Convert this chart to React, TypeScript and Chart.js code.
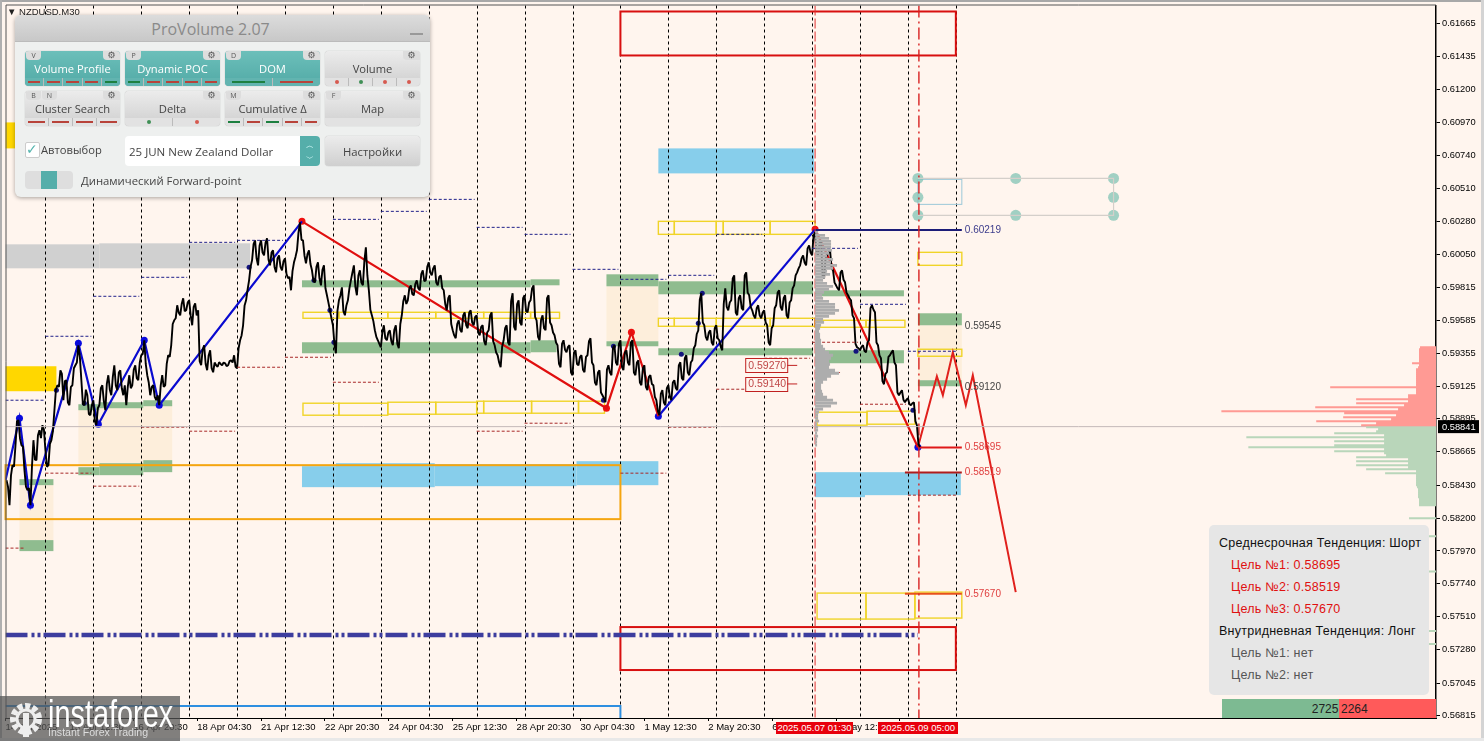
import React, { useEffect, useRef } from "react";
import { Chart, registerables } from "chart.js";
Chart.register(...registerables);

// ---------- axes ----------
const FIRST_BAR = 4;
const LAST_BAR = 1437;
const PRICE_MAX = 0.61791;
const PRICE_MIN = 0.568;
const priceTicks = [0.61665, 0.61435, 0.612, 0.6097, 0.6074, 0.6051, 0.6028, 0.6005, 0.59815, 0.59585, 0.59355, 0.59125, 0.58895, 0.58665, 0.5843, 0.582, 0.5797, 0.5774, 0.5751, 0.5728, 0.57045, 0.56815];
const timeTickBars = [4, 68, 132, 196, 260, 324, 388, 452, 516, 580, 644, 708, 772, 836, 900];
const timeTickLabels = ["14 Apr 2025", "15 Apr 12:30", "16 Apr 20:30", "18 Apr 04:30", "21 Apr 12:30", "22 Apr 20:30", "24 Apr 04:30", "25 Apr 12:30", "28 Apr 20:30", "30 Apr 04:30", "1 May 12:30", "2 May 20:30", "6 May 04:30", "7 May 12:30", "8 May 20:30"];
const dayBreakBars = [44, 92, 140, 188, 236, 284, 332, 380, 428, 476, 524, 572, 620, 668, 716, 764, 812, 860, 908, 956];

// ---------- price, one reading every PRICE_STEP bars from FIRST_PRICE_BAR (price x 1e5) ----------
const FIRST_PRICE_BAR = 5;
const PRICE_STEP = 3;
const closePoints = [
  58466, 58291, 58571, 58711, 58886, 58711, 58536, 58396, 58291, 58746, 58606, 58816, 58851, 58676, 58571, 58746, 58956, 59131, 59236, 59026,
  59166, 58991, 59131, 59271, 59411, 59166, 58991, 59061, 58921, 59026, 58851, 58991, 59131, 58956, 59201, 59061, 59271, 59096, 59236, 59061,
  58991, 59201, 59131, 59271, 59166, 59341, 59446, 59201, 59061, 59131, 59026, 58991, 59201, 59131, 59341, 59411, 59586, 59691, 59621, 59740,
  59656, 59726, 59551, 59705, 59656, 59271, 59411, 59236, 59376, 59222, 59271, 59292, 59271, 59285, 59271, 59306, 59341, 59250, 59446, 59551,
  59726, 59866, 60006, 60146, 59971, 60146, 60041, 60160, 59971, 60076, 59922, 60041, 59936, 60020, 59880, 59796, 59992, 60076, 60272, 60146,
  59985, 60076, 59936, 59852, 59992, 59831, 59971, 59761, 59656, 59551, 59355, 59726, 59817, 59621, 59726, 59866, 59971, 59761, 59936, 59831,
  60097, 59796, 59621, 59516, 59446, 59397, 59551, 59446, 59516, 59411, 59551, 59390, 59621, 59761, 59726, 59831, 59761, 59866, 59796, 59936,
  59866, 59992, 59901, 59971, 59831, 59901, 59796, 59656, 59761, 59516, 59460, 59586, 59502, 59642, 59530, 59656, 59551, 59621, 59481, 59551,
  59411, 59516, 59642, 59411, 59341, 59257, 59446, 59551, 59411, 59775, 59516, 59726, 59551, 59761, 59642, 59726, 59831, 59586, 59446, 59621,
  59516, 59761, 59551, 59481, 59411, 59257, 59446, 59362, 59411, 59201, 59376, 59271, 59341, 59222, 59341, 59460, 59271, 59131, 59236, 59061,
  59012, 59271, 59201, 59411, 59271, 59446, 59236, 59376, 59271, 59446, 59201, 59306, 59131, 59271, 59096, 59201, 59131, 59026, 58921, 59096,
  58991, 59131, 59026, 59166, 59096, 59292, 59166, 59341, 59201, 59306, 59411, 59516, 59775, 59551, 59446, 59516, 59411, 59551, 59446, 59376,
  59810, 59656, 59726, 59901, 59621, 59761, 59656, 59922, 59761, 59656, 59600, 59691, 59600, 59656, 59551, 59411, 59551, 59691, 59796, 59656,
  59761, 59600, 59726, 59831, 59922, 59971, 60041, 59971, 60111, 60041, 60202, 60041, 60146, 59880, 60041, 60076, 59936, 59831, 59796, 59936,
  59852, 59761, 59726, 59600, 59397, 59376, 59411, 59362, 59446, 59691, 59642, 59411, 59320, 59138, 59222, 59341, 59376, 59271, 59061, 59096,
  59012, 59040, 58991, 59012, 58851, 58697,
];
// a second reading inside each step (half a step after each value above)
const midPoints = [
  58420, 58500, 58560, 58880, 58760, 58700, 58420, 58410, 58560, 58610, 58780, 58760, 58820, 58560, 58720, 58810, 59100, 59120, 59210, 59160,
  59010, 59120, 59250, 59290, 59330, 59000, 59100, 58930, 58990, 58880, 58970, 59110, 59020, 59140, 59100, 59190, 59130, 59220, 59110, 59130,
  59120, 59110, 59240, 59180, 59290, 59350, 59280, 59150, 59120, 59050, 59060, 59130, 59120, 59280, 59330, 59560, 59600, 59640, 59700, 59650,
  59710, 59620, 59680, 59620, 59300, 59380, 59280, 59340, 59250, 59290, 59260, 59280, 59290, 59265, 59300, 59290, 59260, 59390, 59480, 59690,
  59800, 59960, 60120, 60020, 60110, 60060, 60130, 60010, 60060, 59960, 60020, 59960, 60000, 59910, 59890, 59930, 60030, 60200, 60150, 60040,
  60050, 59980, 59860, 59960, 59880, 59940, 59810, 59710, 59600, 59420, 59650, 59760, 59650, 59690, 59810, 59920, 59820, 59900, 59850, 60000,
  59900, 59660, 59580, 59470, 59420, 59500, 59460, 59500, 59440, 59520, 59420, 59560, 59720, 59700, 59810, 59770, 59840, 59810, 59910, 59860,
  59960, 59920, 59950, 59850, 59890, 59810, 59700, 59740, 59560, 59480, 59560, 59520, 59620, 59550, 59640, 59570, 59610, 59500, 59540, 59440,
  59500, 59620, 59440, 59360, 59290, 59400, 59530, 59430, 59720, 59540, 59700, 59570, 59740, 59650, 59710, 59810, 59610, 59470, 59590, 59530,
  59740, 59570, 59500, 59430, 59280, 59420, 59380, 59400, 59220, 59360, 59280, 59330, 59240, 59330, 59440, 59290, 59150, 59220, 59080, 59040,
  59240, 59220, 59390, 59290, 59420, 59260, 59360, 59290, 59430, 59220, 59290, 59150, 59250, 59120, 59190, 59140, 59050, 58950, 59070, 59010,
  59110, 59050, 59150, 59110, 59270, 59180, 59320, 59220, 59290, 59390, 59490, 59730, 59570, 59470, 59500, 59430, 59530, 59460, 59400, 59700,
  59680, 59710, 59880, 59640, 59740, 59670, 59900, 59780, 59680, 59620, 59670, 59620, 59640, 59570, 59430, 59530, 59670, 59780, 59680, 59740,
  59620, 59710, 59810, 59900, 59950, 60020, 59990, 60090, 60060, 60180, 60060, 60130, 59900, 60020, 60060, 59950, 59850, 59810, 59920, 59870,
  59780, 59740, 59620, 59420, 59390, 59400, 59370, 59430, 59670, 59660, 59430, 59340, 59160, 59210, 59330, 59360, 59290, 59080, 59080, 59030,
  59030, 59000, 59005, 58880, 58720,
];

// ---------- swing lines (bar, price x 1e5) ----------
const upSwingBars = [4, 18, 29, 77, 97, 143, 158, 301];
const upSwingPoints = [58466, 58900, 58291, 59425, 58858, 59446, 58991, 60279];
const swingBars2 = [301, 606, 631, 658, 815, 918];
const swingPoints2 = [60279, 58970, 59502, 58914, 60223, 58697];
const forecastBars = [918, 937, 943, 953, 966, 973, 1016];
const forecastPoints = [58697, 59194, 59061, 59362, 58991, 59201, 57682];
const blueDotBars = [18, 29, 77, 97, 143, 158, 658, 918];
const blueDotPoints = [58900, 58291, 59425, 58858, 59446, 58991, 58914, 58697];
const redDotBars = [301, 606, 631, 815];
const redDotPoints = [60279, 58970, 59502, 60223];
const navyDotBars = [55, 83, 248, 313, 329, 333, 613, 603, 702, 698, 681, 856, 913];
const navyDotPoints = [59096, 59005, 59957, 59866, 59656, 59432, 59404, 59026, 59775, 59565, 59348, 59369, 58956];

// ---------- zones: [from bar, to bar, upper price, lower price] ----------
const grayZones = [[4, 98, 0.60118, 0.5995], [98, 249, 0.60125, 0.5995]];
const goldZones = [[4, 55, 0.59264, 0.59089], [4, 15, 0.60972, 0.6079]];
const beigeZones = [[18, 52, 0.58431, 0.58046], [77, 171, 0.58984, 0.58571], [606, 658, 0.59824, 0.59439], [918, 962, 0.59551, 0.59166]];
const greenZones = [
  [18, 52, 0.58473, 0.58431], [18, 52, 0.58046, 0.57969],
  [77, 98, 0.58998, 0.58956], [98, 142, 0.59012, 0.5897], [142, 171, 0.59026, 0.58984],
  [77, 98, 0.58557, 0.58501], [98, 142, 0.58585, 0.58501], [142, 171, 0.58606, 0.58522],
  [301, 530, 0.59866, 0.59817], [530, 559, 0.59873, 0.59831],
  [301, 530, 0.59432, 0.59355], [530, 556, 0.59446, 0.59362],
  [606, 658, 0.59908, 0.59824], [606, 658, 0.59439, 0.59404],
  [658, 813, 0.59859, 0.59768], [658, 813, 0.5939, 0.59341],
  [815, 904, 0.59796, 0.59754], [815, 904, 0.59376, 0.59285],
  [918, 962, 0.59635, 0.59551], [918, 962, 0.59166, 0.59124],
];
const blueZones = [
  [301, 335, 0.58564, 0.58417], [335, 434, 0.58585, 0.58417], [434, 576, 0.58578, 0.58424], [576, 658, 0.58599, 0.58431],
  [658, 814, 0.6079, 0.60615], [815, 865, 0.58522, 0.58347], [865, 961, 0.58522, 0.58361],
];
const yellowBoxes = [
  [302, 338, 0.59642, 0.596], [338, 387, 0.59642, 0.596], [387, 435, 0.59642, 0.596], [435, 483, 0.59642, 0.596], [483, 530, 0.59642, 0.596], [530, 559, 0.59642, 0.596],
  [302, 338, 0.59005, 0.58921], [338, 387, 0.59005, 0.58921], [387, 435, 0.59012, 0.58928], [435, 476, 0.59012, 0.58928], [476, 483, 0.59019, 0.58935], [483, 531, 0.59019, 0.58935], [531, 578, 0.59019, 0.58935], [578, 604, 0.59019, 0.58935],
  [658, 674, 0.60279, 0.60188], [674, 716, 0.60279, 0.60188], [716, 723, 0.60279, 0.60188], [723, 770, 0.60279, 0.60188], [770, 815, 0.60279, 0.60188],
  [658, 674, 0.596, 0.59544], [674, 716, 0.596, 0.59544], [716, 723, 0.596, 0.59544], [723, 770, 0.596, 0.59544], [770, 815, 0.596, 0.59544],
  [815, 866, 0.59586, 0.59537], [866, 905, 0.59586, 0.59537],
  [817, 867, 0.58942, 0.58851], [867, 915, 0.58949, 0.58858],
  [817, 866, 0.57675, 0.57493], [866, 915, 0.57675, 0.57493], [915, 962, 0.57682, 0.575],
  [918, 962, 0.60062, 0.59971], [918, 962, 0.59383, 0.59334],
];
const orangeBox = [[4, 620, 0.58571, 0.58193]];
const redBoxes = [[620, 956, 0.61749, 0.61441], [620, 956, 0.57437, 0.57136]];
const skyBox = [[918, 962, 0.60573, 0.60398]];
const bottomBlueBars = [4, 620, 620];
const bottomBluePrices = [0.56884, 0.56884, 0.568];

// ---------- levels ----------
const highLevelFrom = [4, 44, 92, 140, 188, 236, 332, 380, 428, 476, 524, 572, 620, 668, 716, 812, 860, 908];
const highLevelTo = [44, 90, 138, 186, 234, 282, 378, 426, 474, 522, 570, 618, 666, 714, 762, 858, 906, 956];
const highLevelPoints = [59026, 59474, 59754, 59887, 60132, 60146, 60293, 60349, 60433, 60237, 60188, 59943, 59873, 59901, 60188, 60090, 59698, 59369];
const lowLevelFrom = [4, 44, 92, 140, 188, 236, 284, 332, 476, 524, 620, 668, 716, 764, 812, 860, 908];
const lowLevelTo = [24, 90, 138, 186, 234, 282, 330, 378, 522, 570, 666, 714, 762, 810, 858, 906, 956];
const lowLevelPoints = [57990, 58515, 58424, 58837, 58809, 59257, 59327, 59152, 58809, 58865, 58515, 58837, 59103, 59320, 59432, 58998, 58361];
const CURRENT_PRICE = 0.58841;
const MID_TERM_PRICE = 0.57381;
const targetValues = [0.60219, 0.58695, 0.58519, 0.5767];
const targetFrom = [815, 918, 905, 905];
const targetTo = [962, 962, 962, 962];
const targetColors = ["#1c1c78", "#e01818", "#b01c1c", "#e8501c"];
const sideLabelValues = [0.60219, 0.59545, 0.5912, 0.58695, 0.58519, 0.5767];
const sideLabelColors = ["#3c3c8c", "#444444", "#444444", "#e04040", "#e04040", "#e04040"];
const boxedLevels = [0.5927, 0.5914];
const markerBars = [815, 919];

// ---------- drawing handles ----------
const handleBars = [918, 1016, 1114, 918, 1114, 918, 1016, 1114];
const handlePrices = [0.6058, 0.6058, 0.6058, 0.60447, 0.60447, 0.60321, 0.60321, 0.60321];

// ---------- session profile (price x 1e5, width in bars) ----------
const sessionLevels = [60202, 60181, 60160, 60139, 60118, 60097, 60076, 60055, 60034, 60013, 59992, 59971, 59950, 59929, 59908, 59887, 59866, 59845, 59824, 59803, 59782, 59761, 59740, 59719, 59698, 59677, 59656, 59635, 59614, 59593, 59572, 59551, 59530, 59509, 59488, 59467, 59446, 59425, 59404, 59383, 59362, 59341, 59320, 59299, 59278, 59257, 59236, 59215, 59194, 59173, 59152, 59131, 59110, 59089, 59068, 59047, 59026, 59005, 58984, 58963, 58942, 58921, 58900, 58879, 58858, 58837, 58816, 58795, 58774, 58753, 58732, 58711];
const sessionWidths = [3, 10, 14, 16, 16, 16, 17, 14, 12, 18, 16, 22, 18, 12, 15, 10, 8, 12, 18, 14, 9, 7, 8, 14, 20, 20, 24, 20, 14, 8, 9, 6, 5, 4, 5, 5, 6, 6, 8, 10, 14, 18, 16, 14, 15, 14, 20, 24, 16, 12, 8, 6, 6, 7, 8, 12, 18, 22, 16, 8, 4, 3, 3, 4, 2, 3, 3, 2, 3, 2, 2, 2];
const POC_PRICE = 0.5922;

// ---------- market profile on the right edge ----------
const sellLevels = [59397, 59383, 59369, 59355, 59341, 59327, 59313, 59299, 59285, 59271, 59257, 59243, 59229, 59215, 59201, 59187, 59173, 59159, 59145, 59131, 59117, 59103, 59089, 59075, 59061, 59047, 59033, 59019, 59005, 58991, 58977, 58963, 58949, 58935, 58921, 58907, 58893, 58879, 58865, 58851];
const sellVolumes = [16, 17, 17, 17, 17, 17, 17, 17, 24, 17, 18, 20, 20, 20, 20, 20, 20, 20, 20, 20, 106, 20, 20, 20, 28, 28, 80, 28, 80, 32, 121, 38, 215, 92, 40, 93, 45, 120, 60, 75];
const buyLevels = [58837, 58823, 58809, 58795, 58781, 58767, 58753, 58739, 58725, 58711, 58697, 58683, 58669, 58655, 58641, 58627, 58613, 58599, 58585, 58571, 58557, 58543, 58529, 58515, 58501, 58487, 58473, 58459, 58445, 58431, 58417, 58403, 58389, 58375, 58361, 58347, 58333, 58319, 58305, 58291, 58200, 58074, 57826, 57410, 57319];
const buyVolumes = [70, 58, 60, 102, 52, 190, 52, 102, 52, 102, 188, 52, 102, 52, 50, 80, 28, 80, 28, 80, 28, 70, 20, 51, 20, 20, 20, 20, 20, 20, 19, 18, 18, 18, 18, 18, 17, 17, 17, 17, 27, 10, 10, 8, 13];

// ---------- side texts ----------
const FLAG_TIMES = ["2025.05.07 01:30", "2025.05.09 05:00"];
const TREND_LINES = [
  { t: "Среднесрочная Тенденция: Шорт", c: "#111", i: 0 },
  { t: "Цель №1: 0.58695", c: "#e01010", i: 1 },
  { t: "Цель №2: 0.58519", c: "#e01010", i: 1 },
  { t: "Цель №3: 0.57670", c: "#e01010", i: 1 },
  { t: "Внутридневная Тенденция: Лонг", c: "#111", i: 0 },
  { t: "Цель №1: нет", c: "#555", i: 1 },
  { t: "Цель №2: нет", c: "#555", i: 1 },
];
const BUY_COUNT = 2725;
const SELL_COUNT = 2264;

const toPrice = (p: number) => p / 1e5;
const pts = (xs: number[], ps: number[]) => xs.map((x, i) => ({ x, y: toPrice(ps[i]) }));
const levels = (from: number[], to: number[], ps: number[]) =>
  from.flatMap((x, i) => [{ x, y: toPrice(ps[i]) }, { x: to[i], y: toPrice(ps[i]) }, { x: to[i], y: null as any }]);
const profile = (ps: number[], ws: number[], base: number, dir: number) =>
  ps.flatMap((p, i) => [{ x: base, y: toPrice(p) }, { x: base + dir * ws[i], y: toPrice(p) }, { x: base, y: null as any }]);

const line = (data: any[], color: string, width: number, extra: any = {}) => ({
  type: "line", data, borderColor: color, backgroundColor: color, borderWidth: width, pointRadius: 0, tension: 0, spanGaps: false, fill: false, ...extra,
});
const dots = (data: any[], color: string, r: number) => ({
  type: "line", data, showLine: false, pointRadius: r, pointBackgroundColor: color, pointBorderColor: color, pointBorderWidth: 0, borderWidth: 0,
});

const zonesPlugin = {
  id: "zones",
  beforeDatasetsDraw(chart: any) {
    const { ctx, scales: { x, y }, chartArea: a } = chart;
    const fill = (list: number[][], color: string) => {
      ctx.fillStyle = color;
      list.forEach(([x0, x1, hi, lo]) => {
        const px = x.getPixelForValue(x0), py = y.getPixelForValue(hi);
        ctx.fillRect(px, py, x.getPixelForValue(x1) - px, y.getPixelForValue(lo) - py);
      });
    };
    const box = (list: number[][], color: string, w: number) => {
      ctx.strokeStyle = color;
      ctx.lineWidth = w;
      list.forEach(([x0, x1, hi, lo]) => {
        const px = x.getPixelForValue(x0), py = y.getPixelForValue(hi);
        ctx.strokeRect(px, py, x.getPixelForValue(x1) - px, y.getPixelForValue(lo) - py);
      });
    };
    ctx.save();
    fill(beigeZones, "#fdeedb");
    fill(grayZones, "#d0d0d0");
    fill(goldZones, "#ffd700");
    fill(blueZones, "#87ceeb");
    fill(greenZones, "#8fbc8f");
    ctx.strokeStyle = "#000";
    ctx.lineWidth = 1;
    ctx.setLineDash([3, 3]);
    dayBreakBars.forEach((b) => {
      const px = Math.round(x.getPixelForValue(b)) + 0.5;
      ctx.beginPath();
      ctx.moveTo(px, a.top);
      ctx.lineTo(px, a.bottom);
      ctx.stroke();
    });
    ctx.setLineDash([]);
    box(yellowBoxes, "#f0d428", 1.4);
    box(orangeBox, "#f5a50f", 2);
    box(redBoxes, "#d80f0f", 2);
    box(skyBox, "#9cc8d8", 1);
    ctx.restore();
  },
  afterDatasetsDraw(chart: any) {
    const { ctx, scales: { x, y }, chartArea: a } = chart;
    ctx.save();
    ctx.textBaseline = "middle";
    ctx.font = "10px 'Liberation Sans'";
    sideLabelValues.forEach((v, i) => {
      ctx.fillStyle = sideLabelColors[i];
      ctx.fillText(v.toFixed(5), x.getPixelForValue(965), y.getPixelForValue(v));
    });
    boxedLevels.forEach((v) => {
      const py = y.getPixelForValue(v);
      const px = x.getPixelForValue(745);
      ctx.fillStyle = "#fff5ee";
      ctx.fillRect(px, py - 7, 42, 14);
      ctx.strokeStyle = "#c02020";
      ctx.lineWidth = 1;
      ctx.strokeRect(px + 0.5, Math.round(py - 7) + 0.5, 42, 14);
      ctx.beginPath();
      ctx.moveTo(px + 42, py);
      ctx.lineTo(px + 52, py);
      ctx.stroke();
      ctx.fillStyle = "#c04848";
      ctx.font = "10.5px 'Liberation Sans'";
      ctx.fillText(v.toFixed(5), px + 3, py + 0.5);
    });
    // frame
    ctx.strokeStyle = "#555";
    ctx.lineWidth = 1;
    ctx.beginPath();
    ctx.moveTo(a.left + 0.5, a.bottom);
    ctx.lineTo(a.left + 0.5, a.top - 0.5);
    ctx.lineTo(a.right, a.top - 0.5);
    ctx.stroke();
    // current price tag
    const cy = y.getPixelForValue(CURRENT_PRICE);
    ctx.fillStyle = "#000";
    ctx.fillRect(a.right + 2, cy - 6.5, 41, 13);
    ctx.fillStyle = "#fff";
    ctx.font = "9.3px 'Liberation Sans'";
    ctx.fillText(CURRENT_PRICE.toFixed(5), a.right + 6, cy + 0.5);
    ctx.restore();
  },
};

const Tab = ({ left, w, children }: any) => (
  <div style={{ position: "absolute", top: 0, left, width: w, height: 9, background: "#ddd", borderRadius: "0 0 4px 4px", fontSize: 7, lineHeight: "9px", textAlign: "center", color: "#555" }}>{children}</div>
);

const Btn = ({ x, y, label, on, keys, marks, round }: any) => (
  <div style={{ position: "absolute", left: x, top: y, width: 95, height: 35, borderRadius: 4, overflow: "hidden", background: on ? "linear-gradient(#6cbfba,#52aaa6)" : "linear-gradient(#ececec,#cfcfcf)", boxShadow: "0 0 1px #999" }}>
    {(keys || []).map((k: string, i: number) => <Tab key={k} left={1 + i * 16} w={15}>{k}</Tab>)}
    <div style={{ position: "absolute", top: 0, right: 0, width: 17, height: 9, background: "#ddd", borderRadius: "0 0 0 4px", fontSize: 9, lineHeight: "9px", textAlign: "center", color: "#555", fontFamily: "'DejaVu Sans'" }}>⚙</div>
    <div style={{ position: "absolute", left: 0, right: 0, top: 9, textAlign: "center", fontSize: 11.2, lineHeight: "17px", color: on ? "#fff" : "#444", fontFamily: "'Open Sans'" }}>{label}</div>
    <div style={{ position: "absolute", left: 0, right: 0, bottom: 0, height: 8, display: "flex", background: on ? "#62b4b0" : "#e2e2e2" }}>
      {(marks || "").split("").map((m: string, i: number) => (
        <div key={i} style={{ flex: 1, position: "relative", borderLeft: i ? "1px solid #bbb" : "none" }}>
          {round
            ? <div style={{ position: "absolute", left: "50%", top: 2, width: 4, height: 4, marginLeft: -2, borderRadius: 2, background: m === "g" ? "#3f8f55" : "#d65a50" }} />
            : <div style={{ position: "absolute", left: "15%", right: "15%", top: 3, height: 1.5, background: m === "g" ? "#1d8040" : "#b8433a" }} />}
        </div>
      ))}
    </div>
  </div>
);

const Panel = () => (
  <div style={{ position: "absolute", left: 15, top: 15, width: 415, height: 182, borderRadius: 6, background: "#eef0ef", boxShadow: "0 1px 4px rgba(0,0,0,.35)", fontFamily: "'Open Sans'", overflow: "hidden" }}>
    <div style={{ height: 26, background: "linear-gradient(#dcdcdc,#c8c8c8)", borderBottom: "1px solid #bbb", textAlign: "center", fontSize: 16, lineHeight: "28px", color: "#8a8a8a", paddingRight: 24, fontFamily: "'Open Sans'" }}>ProVolume 2.07</div>
    <div style={{ position: "absolute", left: 395, top: 18, width: 13, height: 2, background: "#999" }} />
    <Btn x={10} y={36} label="Volume Profile" on keys={["V"]} marks="rrrrg" />
    <Btn x={110} y={36} label="Dynamic POC" on keys={["P"]} marks="grrrr" />
    <Btn x={210} y={36} label="DOM" on keys={["D"]} marks="gr" />
    <Btn x={310} y={36} label="Volume" marks="rgrr" round />
    <Btn x={10} y={76} label="Cluster Search" keys={["B", "N"]} marks="rrrr" />
    <Btn x={110} y={76} label="Delta" marks="gr" round />
    <Btn x={210} y={76} label="Cumulative Δ" keys={["M"]} marks="grgrr" />
    <Btn x={310} y={76} label="Map" keys={["F"]} />
    <div style={{ position: "absolute", left: 10, top: 127, width: 13, height: 14, background: "#fff", border: "1px solid #ccc", borderRadius: 2, color: "#55b5ae", fontSize: 14, lineHeight: "13px", fontFamily: "'DejaVu Sans'" }}>✓</div>
    <div style={{ position: "absolute", left: 26, top: 126, fontSize: 11.2, lineHeight: "17px", color: "#444" }}>Автовыбор</div>
    <div style={{ position: "absolute", left: 110, top: 121, width: 195, height: 30, background: "#fff", borderRadius: 4, overflow: "hidden", fontSize: 11.5, lineHeight: "31px", color: "#444", textIndent: 4 }}>
      25 JUN New Zealand Dollar
      <div style={{ position: "absolute", right: 0, top: 0, width: 20, height: 30, background: "#55aeaa", color: "#dff", fontSize: 8, lineHeight: "13px", textAlign: "center", textIndent: 0, paddingTop: 2 }}>︿<br />﹀</div>
    </div>
    <div style={{ position: "absolute", left: 310, top: 121, width: 95, height: 30, borderRadius: 4, background: "linear-gradient(#ececec,#cfcfcf)", boxShadow: "0 0 1px #999", textAlign: "center", fontSize: 11.3, lineHeight: "31px", color: "#444" }}>Настройки</div>
    <div style={{ position: "absolute", left: 10, top: 156, width: 48, height: 18, borderRadius: 4, background: "#dedede", overflow: "hidden" }}>
      <div style={{ position: "absolute", left: 16, top: 0, width: 16, height: 18, background: "#55aeaa" }} />
    </div>
    <div style={{ position: "absolute", left: 66, top: 157, fontSize: 11.3, lineHeight: "17px", color: "#444" }}>Динамический Forward-point</div>
  </div>
);

const Logo = () => (
  <div style={{ position: "absolute", left: 0, top: 696, width: 180, height: 45, background: "rgba(85,85,85,.74)", overflow: "hidden", color: "#fff" }}>
    <svg width="40" height="40" style={{ position: "absolute", left: 6, top: 3 }} viewBox="0 0 40 40">
      <circle cx="20" cy="20" r="13" fill="none" stroke="#eee" strokeWidth="6" strokeDasharray="5 2.5" />
      <circle cx="20" cy="20" r="9" fill="none" stroke="#eee" strokeWidth="3" />
      <rect x="17" y="14" width="6" height="24" fill="#eee" />
    </svg>
    <div style={{ position: "absolute", left: 48, top: -3, fontFamily: "'Liberation Sans'", fontSize: 38, lineHeight: "42px", transformOrigin: "left", transform: "scaleX(.76)", whiteSpace: "nowrap" }}>instaforex</div>
    <div style={{ position: "absolute", left: 48, top: 29, fontFamily: "'Liberation Sans'", fontSize: 10.6, lineHeight: "14px", color: "#ddd", whiteSpace: "nowrap" }}>Instant Forex Trading</div>
  </div>
);

const FLAG_LEFT = [776, 878];

export default function App() {
  const ref = useRef<HTMLCanvasElement | null>(null);
  useEffect(() => {
    document.body.style.margin = "0";
    const closeData = closePoints.flatMap((p, i) => {
      const x = FIRST_PRICE_BAR + i * PRICE_STEP;
      const first = { x, y: toPrice(p) };
      return i < midPoints.length ? [first, { x: x + PRICE_STEP / 2, y: toPrice(midPoints[i]) }] : [first];
    });
    const top = PRICE_MAX, bottom = PRICE_MIN;
    const chart = new Chart(ref.current as any, {
      type: "line",
      plugins: [zonesPlugin as any],
      data: {
        datasets: [
          line(profile(sessionLevels, sessionWidths, 815, 1), "#adadad", 2.8),
          line([{ x: 815, y: POC_PRICE }, { x: 840, y: POC_PRICE }], "#c04040", 1),
          line(profile(sellLevels, sellVolumes, LAST_BAR, -1), "#ff9a94", 2),
          line(profile(buyLevels, buyVolumes, LAST_BAR, -1), "#b9d6ba", 2),
          line([{ x: FIRST_BAR, y: CURRENT_PRICE }, { x: LAST_BAR, y: CURRENT_PRICE }], "#c4b8b8", 1),
          line([{ x: 918, y: handlePrices[0] }, { x: 1114, y: handlePrices[2] }, { x: 1114, y: handlePrices[7] }, { x: 918, y: handlePrices[5] }], "#d4cfca", 1.2),
          line(levels(highLevelFrom, highLevelTo, highLevelPoints), "#20208a", 1, { borderDash: [3, 2] }),
          line(levels(lowLevelFrom, lowLevelTo, lowLevelPoints), "#a82828", 1, { borderDash: [3, 2] }),
          line(bottomBlueBars.map((x, i) => ({ x, y: bottomBluePrices[i] })), "#2e8fe0", 2),
          line([{ x: FIRST_BAR, y: MID_TERM_PRICE }, { x: 918, y: MID_TERM_PRICE }], "#3d3d9e", 4.5, { borderDash: [22, 4, 3, 3, 3, 3] }),
          line(closeData, "#000", 1.9, { borderJoinStyle: "bevel" }),
          dots(pts(navyDotBars, navyDotPoints), "#14147e", 2.5),
          line([{ x: markerBars[0], y: top }, { x: markerBars[0], y: bottom }], "#e03030", 1, { borderDash: [10, 3] }),
          line([{ x: markerBars[1], y: top }, { x: markerBars[1], y: bottom }], "#d82020", 1.4, { borderDash: [12, 4, 2, 4] }),
          ...targetValues.map((v, i) => line([{ x: targetFrom[i], y: v }, { x: targetTo[i], y: v }], targetColors[i], 2)),
          line(pts(upSwingBars, upSwingPoints), "#0a0ad0", 2.2),
          line(pts(swingBars2.slice(0, 4), swingPoints2.slice(0, 4)), "#e00f0f", 2.2),
          line(pts(swingBars2.slice(3, 5), swingPoints2.slice(3, 5)), "#0a0ad0", 2.2),
          line(pts(swingBars2.slice(4, 6), swingPoints2.slice(4, 6)), "#e00f0f", 2.2),
          line(pts(forecastBars, forecastPoints), "#e0201c", 2),
          dots(pts(blueDotBars, blueDotPoints), "#0a0ae0", 3.5),
          dots(pts(redDotBars, redDotPoints), "#f00f0f", 3.5),
          dots(handleBars.map((x, i) => ({ x, y: handlePrices[i] })), "rgba(130,195,180,.75)", 5.5),
        ] as any,
      },
      options: {
        animation: false,
        responsive: false,
        devicePixelRatio: 1,
        layout: { padding: { left: 3, top: 5, right: 0, bottom: 0 } },
        plugins: { legend: { display: false }, tooltip: { enabled: false } },
        events: [],
        scales: {
          x: {
            type: "linear",
            min: FIRST_BAR,
            max: LAST_BAR,
            afterBuildTicks: (s: any) => { s.ticks = timeTickBars.map((value) => ({ value })); },
            afterFit: (s: any) => { s.height = 23; s.paddingLeft = 0; s.paddingRight = 0; },
            ticks: {
              autoSkip: false, maxRotation: 0, minRotation: 0, align: "start", padding: 1, color: "#000",
              font: { family: "'Liberation Sans'", size: 9.5 },
              callback: (_v: any, i: number) => timeTickLabels[i],
            },
            grid: { drawOnChartArea: false, drawTicks: true, tickLength: 3, color: "#000" },
            border: { display: true, color: "#000", width: 1 },
          },
          y: {
            type: "linear",
            position: "right",
            min: PRICE_MIN,
            max: PRICE_MAX,
            afterBuildTicks: (s: any) => { s.ticks = priceTicks.map((value) => ({ value })); },
            afterFit: (s: any) => { s.width = 48; s.paddingTop = 0; s.paddingBottom = 0; },
            ticks: {
              autoSkip: false, padding: 2, color: "#000",
              font: { family: "'Liberation Sans'", size: 9.3 },
              callback: (v: any) => Number(v).toFixed(5),
            },
            grid: { drawOnChartArea: false, drawTicks: true, tickLength: 4, color: "#000" },
            border: { display: true, color: "#000", width: 1.5 },
          },
        },
      } as any,
    });
    return () => chart.destroy();
  }, []);

  const total = BUY_COUNT + SELL_COUNT;
  return (
    <div style={{ position: "absolute", left: 0, top: 0, width: 1484, height: 741, overflow: "hidden", background: "#fff5ee", fontFamily: "'Liberation Sans'" }}>
      <div style={{ position: "absolute", left: 0, top: 0, width: 1484, height: 2, background: "#a8a8a8" }} />
      <div style={{ position: "absolute", left: 0, top: 0, width: 2, height: 738, background: "#b0b0b0" }} />
      <div style={{ position: "absolute", left: 1481, top: 0, width: 3, height: 738, background: "#d4d4d4" }} />
      <div style={{ position: "absolute", left: 0, top: 738, width: 1484, height: 3, background: "#e8e8e8" }} />
      <canvas ref={ref} width={1484} height={741} style={{ position: "absolute", left: 0, top: 0, width: 1484, height: 741 }} />
      <div style={{ position: "absolute", left: 7, top: 6, fontSize: 9.5, lineHeight: "12px", color: "#222" }}>▼ NZDUSD,M30</div>
      {FLAG_TIMES.map((t, i) => (
        <div key={t} style={{ position: "absolute", left: FLAG_LEFT[i], top: 722, width: i ? 80 : 77, height: 12, background: "#e8000c", color: "#fff", fontSize: 9.5, lineHeight: "12px", textAlign: "center", whiteSpace: "nowrap" }}>{t}</div>
      ))}
      <div style={{ position: "absolute", left: 1209, top: 525, width: 220, height: 170, background: "#e6e6e6", borderRadius: 5, paddingTop: 7, boxSizing: "border-box" }}>
        {TREND_LINES.map((l) => (
          <div key={l.t + l.c} style={{ height: 22, lineHeight: "22px", fontSize: 12.5, letterSpacing: 0.25, color: l.c, paddingLeft: l.i ? 22 : 10, whiteSpace: "nowrap" }}>{l.t}</div>
        ))}
      </div>
      <div style={{ position: "absolute", left: 1222, top: 699, width: 215 * BUY_COUNT / total + 1, height: 19, background: "#7dba92", textAlign: "right", fontSize: 12, lineHeight: "20px", color: "#222", paddingRight: 2, boxSizing: "border-box" }}>{BUY_COUNT}</div>
      <div style={{ position: "absolute", left: 1339, top: 699, width: 97, height: 19, background: "#ff5a5a", fontSize: 12, lineHeight: "20px", color: "#222", paddingLeft: 2, boxSizing: "border-box" }}>{SELL_COUNT}</div>
      <Panel />
      <Logo />
    </div>
  );
}
